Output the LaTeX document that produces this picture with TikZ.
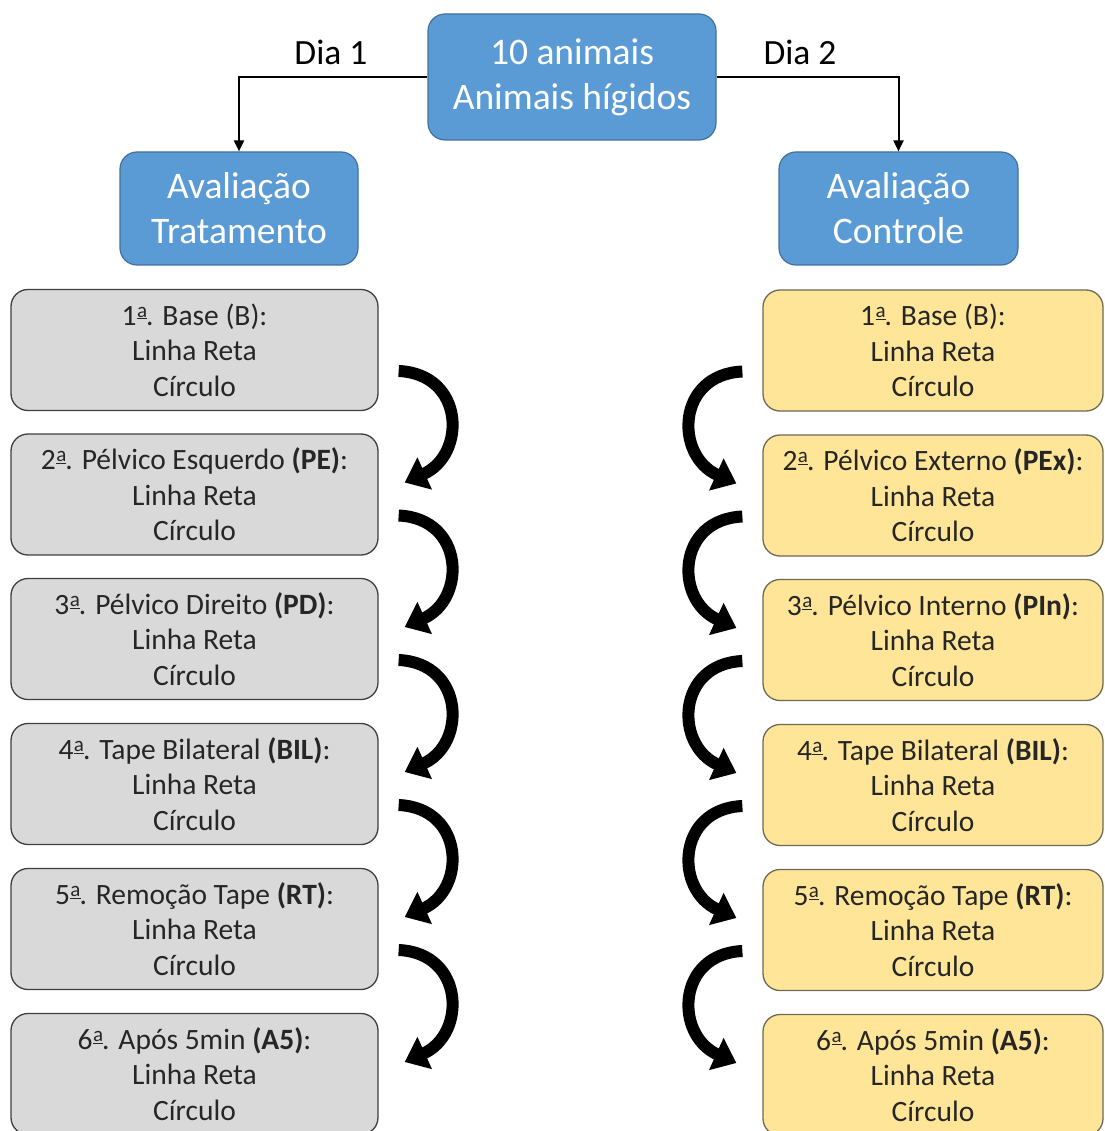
\documentclass[tikz,border=0pt]{standalone}
\usepackage{fontspec}
\setmainfont{Carlito}
\usetikzlibrary{arrows.meta,calc}
\definecolor{bluefill}{HTML}{5B9BD5}
\definecolor{blueline}{HTML}{41719C}
\definecolor{grayfill}{HTML}{D9D9D9}
\definecolor{grayline}{HTML}{3F3F3F}
\definecolor{yelfill}{HTML}{FFE598}
\definecolor{yelline}{HTML}{6E6A55}
\definecolor{txt}{HTML}{262626}
\newcommand\ordfem{\kern0.5pt\raisebox{8pt}{\fontsize{21}{21}\selectfont\underline{\smash{a}}}\kern-1pt}
\tikzset{
  bluebox/.style={draw=blueline,line width=1.2pt,fill=bluefill,rounded corners=17pt,
    text=white,align=center,inner sep=0pt,
    font=\fontsize{37.5}{45}\selectfont},
  graybox/.style={draw=grayline,line width=1.3pt,fill=grayfill,rounded corners=17pt,
    text=txt,align=center,inner sep=0pt,minimum width=367pt,minimum height=121pt,
    font=\fontsize{29.5}{35.5}\selectfont},
  yelbox/.style={graybox,draw=yelline,fill=yelfill,minimum width=340pt},
  conn/.style={line width=2pt,-{Triangle[length=11pt,width=10pt]}},
  dialabel/.style={font=\fontsize{35.5}{40}\selectfont,text=black},
  bigarrow/.style={line width=12pt,black,-{Triangle[length=22pt,width=34pt]}}
}
\begin{document}
\begin{tikzpicture}[x=1pt,y=-1pt]
\useasboundingbox (0,0) rectangle (1104,1131);
\fill[white] (0,0) rectangle (1104,1131);
\node[bluebox,minimum width=288pt,minimum height=126pt] (top) at (572,77) {10 animais\\Animais hígidos};
\node[bluebox,minimum width=238pt,minimum height=113pt] (lb) at (239,208.5) {Avaliação\\Tratamento};
\node[bluebox,minimum width=239pt,minimum height=113pt] (rb) at (898.5,208.5) {Avaliação\\Controle};
\draw[conn] (top.west) -| (lb.north);
\draw[conn] (top.east) -| (rb.north);
\node[dialabel] (d1) at (331,52) {Dia 1};
\node[dialabel] (d2) at (800,52) {Dia 2};
% gray column
\node[graybox] (g1) at (194.5,350) {1\ordfem. Base (B):\\Linha Reta\\Círculo};
\node[graybox] (g2) at (194.5,494.5) {2\ordfem. Pélvico Esquerdo \textbf{(PE)}:\\Linha Reta\\Círculo};
\node[graybox] (g3) at (194.5,639) {3\ordfem. Pélvico Direito \textbf{(PD)}:\\Linha Reta\\Círculo};
\node[graybox] (g4) at (194.5,784) {4\ordfem. Tape Bilateral \textbf{(BIL)}:\\Linha Reta\\Círculo};
\node[graybox] (g5) at (194.5,929) {5\ordfem. Remoção Tape \textbf{(RT)}:\\Linha Reta\\Círculo};
\node[graybox] (g6) at (194.5,1074) {6\ordfem. Após 5min \textbf{(A5)}:\\Linha Reta\\Círculo};
% yellow column
\node[yelbox] (y1) at (933,350.5) {1\ordfem. Base (B):\\Linha Reta\\Círculo};
\node[yelbox] (y2) at (933,495.5) {2\ordfem. Pélvico Externo \textbf{(PEx)}:\\Linha Reta\\Círculo};
\node[yelbox] (y3) at (933,640) {3\ordfem. Pélvico Interno \textbf{(PIn)}:\\Linha Reta\\Círculo};
\node[yelbox] (y4) at (933,785) {4\ordfem. Tape Bilateral \textbf{(BIL)}:\\Linha Reta\\Círculo};
\node[yelbox] (y5) at (933,930) {5\ordfem. Remoção Tape \textbf{(RT)}:\\Linha Reta\\Círculo};
\node[yelbox] (y6) at (933,1075) {6\ordfem. Após 5min \textbf{(A5)}:\\Linha Reta\\Círculo};
% curved arrows
\foreach \a/\b in {g1/g2,g2/g3,g3/g4,g4/g5,g5/g6}{
  \draw[bigarrow] ($(\a.east)+(20,21)$) .. controls +(66,3) and +(62,-28) .. ($(\b.east)+(26,-12)$);
}
\foreach \a/\b in {y1/y2,y2/y3,y3/y4,y4/y5,y5/y6}{
  \draw[bigarrow] ($(\a.west)+(-20,21)$) .. controls +(-66,3) and +(-62,-28) .. ($(\b.west)+(-26,-12)$);
}
\end{tikzpicture}
\end{document}
